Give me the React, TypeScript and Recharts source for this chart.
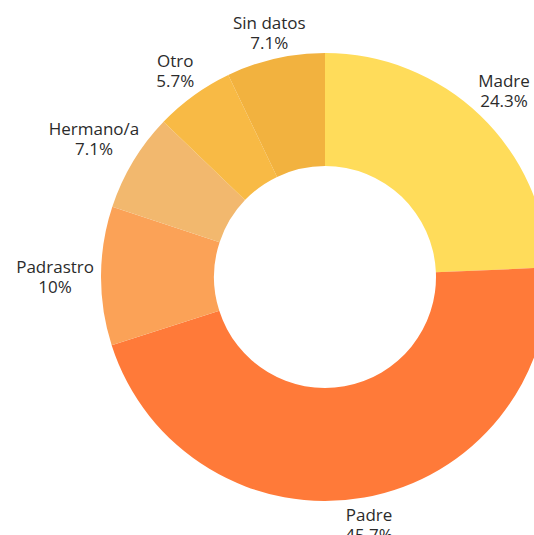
import { PieChart, Pie, Cell } from "recharts";

const categories = ["Madre", "Padre", "Padrastro", "Hermano/a", "Otro", "Sin datos"];
const values = [24.3, 45.7, 10, 7.1, 5.7, 7.1];
const colors = ["#FFDC5A", "#FF7A39", "#FBA257", "#F2B86E", "#F8BA45", "#F2B23F"];

const data = categories.map((name, i) => ({ name, value: values[i] }));

const RAD = Math.PI / 180;
const FONT = "17px 'Open Sans'";

let ctx: CanvasRenderingContext2D | null = null;
function textWidth(s: string) {
  if (!ctx) ctx = document.createElement("canvas").getContext("2d");
  if (!ctx) return s.length * 9;
  ctx.font = FONT;
  return ctx.measureText(s).width;
}

// label box sits just outside the ring, pushed out along the slice's mid-angle
function renderLabel(props: any) {
  const { cx, cy, midAngle, outerRadius, name, value } = props;
  const ux = Math.cos(-midAngle * RAD);
  const uy = Math.sin(-midAngle * RAD);
  const pct = `${value}%`;
  const halfW = Math.max(textWidth(name), textWidth(pct)) / 2;
  const halfH = 20;
  const push = Math.min(
    Math.abs(ux) > 1e-6 ? halfW / Math.abs(ux) : Infinity,
    Math.abs(uy) > 1e-6 ? halfH / Math.abs(uy) : Infinity,
  );
  const r = outerRadius + 7 + push;
  const x = cx + r * ux;
  const y = cy + r * uy;
  return (
    <text
      x={x}
      y={y - 3}
      textAnchor="middle"
      fill="#2b2b2b"
      fontSize={17}
      fontFamily="'Open Sans', sans-serif"
    >
      <tspan x={x} dy={0}>
        {name}
      </tspan>
      <tspan x={x} dy={20}>
        {pct}
      </tspan>
    </text>
  );
}

export default function App() {
  return (
    <div style={{ position: "absolute", left: 0, top: 0, background: "#fff" }}>
      <PieChart
        width={534}
        height={535}
        margin={{ top: 0, right: 0, bottom: 0, left: 0 }}
      >
        <Pie
          data={data}
          dataKey="value"
          nameKey="name"
          cx={325}
          cy={277}
          innerRadius={111}
          outerRadius={224}
          startAngle={90}
          endAngle={-270}
          stroke="none"
          label={renderLabel}
          labelLine={false}
          isAnimationActive={false}
        >
          {data.map((d, i) => (
            <Cell key={d.name} fill={colors[i]} />
          ))}
        </Pie>
      </PieChart>
    </div>
  );
}
